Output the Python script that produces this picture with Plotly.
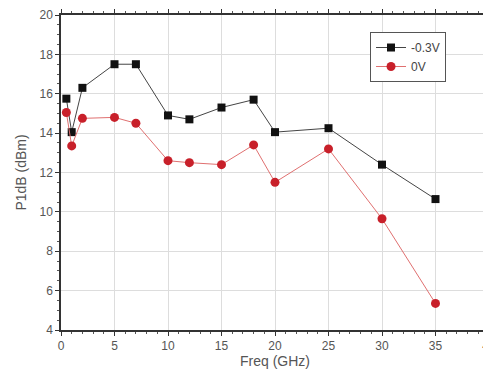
import plotly.graph_objects as go

freq = [0.5, 1, 2, 5, 7, 10, 12, 15, 18, 20, 25, 30, 35]
p1db_neg03 = [15.75, 14.05, 16.3, 17.5, 17.5, 14.9, 14.7, 15.3, 15.7, 14.05, 14.25, 12.4, 10.65]
p1db_0v = [15.05, 13.35, 14.75, 14.8, 14.5, 12.6, 12.5, 12.4, 13.4, 11.5, 13.2, 9.65, 5.35]

fig = go.Figure()
fig.add_trace(go.Scatter(x=freq, y=p1db_neg03, name="-0.3V", mode="lines+markers",
                         line=dict(color="#444444", width=1),
                         marker=dict(symbol="square", size=8, color="#111111")))
fig.add_trace(go.Scatter(x=freq, y=p1db_0v, name="0V", mode="lines+markers",
                         line=dict(color="#e07070", width=1),
                         marker=dict(symbol="circle", size=9, color="#c8202a")))

axis_common = dict(showline=True, linecolor="#333333", linewidth=1.5, mirror="allticks",
                   ticks="outside", ticklen=4, tickcolor="#333333", automargin=False,
                   ticklabeloverflow="allow",
                   showgrid=True, gridcolor="#dddddd", gridwidth=1, zeroline=False,
                   tickfont=dict(family="Arial, Liberation Sans", size=12, color="#555555"),
                   minor=dict(ticks="outside", ticklen=2, tickcolor="#555555", showgrid=False))

fig.update_xaxes(range=[0, 40], dtick=5, title=dict(text="Freq (GHz)", standoff=1,
                 font=dict(family="Arial, Liberation Sans", size=14, color="#555555")),
                 **axis_common)
fig.update_yaxes(range=[4, 20], dtick=2, title=dict(text="P1dB (dBm)", standoff=10,
                 font=dict(family="Arial, Liberation Sans", size=14, color="#555555")),
                 **axis_common)

fig.update_layout(width=483, height=373, margin=dict(l=53, r=2, t=7, b=51),
                  plot_bgcolor="white", paper_bgcolor="white",
                  legend=dict(x=0.722, y=0.946, xanchor="left", yanchor="top",
                              bgcolor="white", bordercolor="#555555", borderwidth=1,
                              font=dict(family="Arial, Liberation Sans", size=12, color="#444444"),
                              tracegroupgap=0, itemwidth=30))

fig.write_html("out.html")
